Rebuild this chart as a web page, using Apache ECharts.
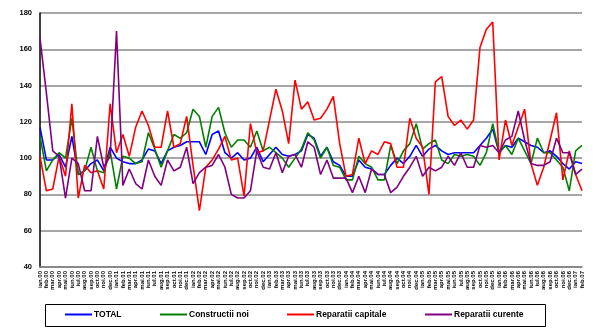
<!DOCTYPE html>
<html>
<head>
<meta charset="utf-8">
<script src="https://cdn.jsdelivr.net/npm/echarts@6/dist/echarts.min.js"></script>
<style>html,body{margin:0;padding:0;background:#fff}#c{width:600px;height:334px}</style>
</head>
<body>
<div id="c"></div>
<script>
var monthNames = ['ian','feb','mar','apr','mai','iun','iul','aug','sep','oct','noi','dec'];
var years = ['00','01','02','03','04','05','06','07'];
var categories = [];
years.forEach(function (y) { monthNames.forEach(function (m) { categories.push(m + '.' + y); }); });
categories = categories.slice(0, 86);

var yTicks = [40, 60, 80, 100, 120, 140, 160, 180];

var total = [117,99,99,102,95,112,91,93,97,99,93,106,100,98,97,97,99,105,104,97,104,106,
 107,109,109,109,102,113,115,103,100,103,99,100,106,98,102,106,102,101,102,104,113,
 111,101,106,98,96,90,90,99,95,94,91,91,96,100,97,101,107,101,105,107,104,
 102,103,103,103,103,107,111,116,103,107,106,111,109,107,106,103,104,101,97,94,98,97];
var constructiiNoi = [112,93,99,103,100,122,91,93,106,93,92,104,83,101,100,97,98,114,105,95,104,113,
 111,114,127,123,106,123,128,114,106,110,110,106,115,104,106,103,100,95,100,105,114,
 110,100,106,96,95,88,88,101,97,95,88,88,107,97,104,108,119,105,108,110,99,
 97,102,101,102,101,96,103,119,103,107,102,111,104,97,111,103,103,99,95,82,104,107];
var reparatiiCapitale = [101,82,83,101,90,130,78,96,92,93,83,130,103,113,101,117,126,118,106,106,126,106,
 108,123,96,71,95,99,105,112,99,100,79,119,103,104,121,138,126,108,143,127,131,
 121,122,127,134,108,90,91,111,97,104,102,109,108,95,95,122,111,106,80,142,145,
 123,118,121,116,121,161,171,175,99,121,107,117,127,97,85,95,110,125,88,104,91,82];
var reparatiiCurente = [166,136,104,101,78,100,97,82,82,112,95,101,170,85,94,86,83,99,90,85,99,93,
 95,106,86,92,95,96,102,95,80,78,78,82,104,95,94,103,92,101,102,95,109,
 106,91,99,89,89,89,81,90,81,94,91,91,81,84,90,95,101,90,95,93,95,
 101,96,103,95,95,107,106,107,103,110,112,126,110,97,96,96,98,111,103,103,91,94];

var seriesNames = ['TOTAL', 'Constructii noi', 'Reparatii capitale', 'Reparatii curente'];
var seriesData = [total, constructiiNoi, reparatiiCapitale, reparatiiCurente];
var colors = ['#0000FF', '#008000', '#FF0000', '#800080'];
var legendLeft = [65, 160, 287, 425];

var chart = echarts.init(document.getElementById('c'), null, {renderer: 'canvas'});
var font = 'Liberation Sans, Arial, sans-serif';

var legends = seriesNames.map(function (n, i) {
  return {
    data: [n], left: legendLeft[i], top: 310, icon: 'rect', itemWidth: 27, itemHeight: 2,
    itemGap: 0, padding: 0,
    textStyle: {fontFamily: font, fontWeight: 'bold', fontSize: 8.5, color: '#000', padding: [0, 0, 0, -3]}
  };
});

chart.setOption({
  animation: false,
  color: colors,
  grid: {left: 40, right: 18, top: 13, bottom: 67},
  legend: legends,
  graphic: [{type: 'rect', shape: {x: 45.5, y: 304.5, width: 500, height: 22},
    style: {fill: 'none', stroke: '#000', lineWidth: 1}}],
  xAxis: {
    type: 'category', data: categories, boundaryGap: false,
    axisLine: {lineStyle: {color: '#808080', width: 1.5}},
    axisTick: {show: false},
    axisLabel: {interval: 0, rotate: 90, fontSize: 6, fontWeight: 'bold', fontFamily: font, color: '#000', margin: 4}
  },
  yAxis: {
    type: 'value', min: yTicks[0], max: yTicks[yTicks.length - 1], interval: 20,
    axisLine: {show: true, lineStyle: {color: '#000', width: 1.5}},
    axisTick: {show: false},
    axisLabel: {fontSize: 7.5, fontWeight: 'bold', fontFamily: font, color: '#000', margin: 8},
    splitLine: {lineStyle: {color: '#888', width: 1.5}}
  },
  series: seriesNames.map(function (n, i) {
    return {name: n, type: 'line', data: seriesData[i], symbol: 'none',
      lineStyle: {width: 1.6, color: colors[i]}, itemStyle: {color: colors[i]}};
  })
});
</script>
</body>
</html>
